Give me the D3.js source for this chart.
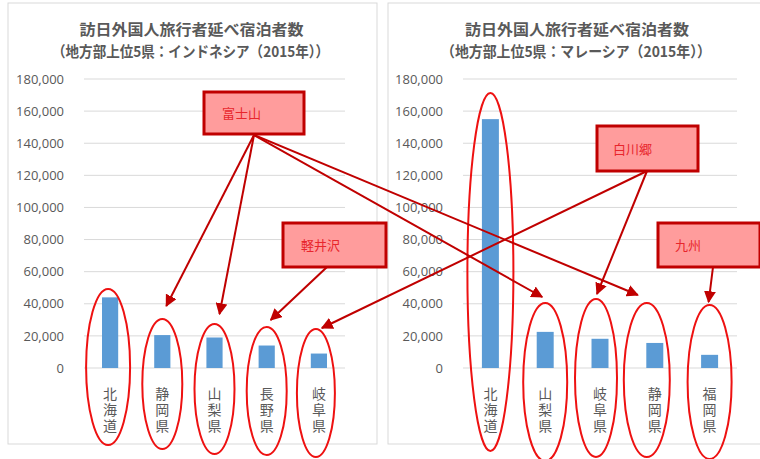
<!DOCTYPE html>
<html><head><meta charset="utf-8">
<script src="https://cdn.jsdelivr.net/npm/d3@7"></script>
<style>
html,body{margin:0;padding:0;background:#fff;}
svg{display:block;font-family:"Noto Sans CJK JP","Open Sans",sans-serif;}
.vt{writing-mode:vertical-rl;text-orientation:upright;}
</style></head><body>
<svg id="c" width="760" height="459"></svg>
<script>
const titleLine1 = "訪日外国人旅行者延べ宿泊者数";
const leftTitle2 = "（地方部上位5県：インドネシア（2015年））";
const rightTitle2 = "（地方部上位5県：マレーシア（2015年））";
const leftCategories = ["北海道","静岡県","山梨県","長野県","岐阜県"];
const leftValues = [44000, 20500, 19000, 14000, 9000];
const rightCategories = ["北海道","山梨県","岐阜県","静岡県","福岡県"];
const rightValues = [155000, 22500, 18200, 15600, 8200];
const yTicks = [0, 20000, 40000, 60000, 80000, 100000, 120000, 140000, 160000, 180000];
const calloutLabels = ["富士山","軽井沢","白川郷","九州"];

const svg = d3.select("#c");
const fmt = d3.format(",");
const y = d3.scaleLinear().domain([0,180000]).range([368,79]);

function panel(px, pw, x0, x1, title2, cats, vals, t2len){
  const g = svg.append("g");
  g.append("rect").attr("x",px).attr("y",3).attr("width",pw).attr("height",441)
   .attr("fill","#fff").attr("stroke","#d9d9d9").attr("stroke-width",1);
  const cx = (x0+x1)/2 - 23;
  g.append("text").attr("x",cx).attr("y",35).attr("text-anchor","middle")
   .attr("font-size",15).attr("font-weight","bold").attr("fill","#595959")
   .attr("textLength",224).attr("lengthAdjust","spacingAndGlyphs").text(titleLine1);
  g.append("text").attr("x",cx-1).attr("y",57).attr("text-anchor","middle")
   .attr("font-size",15).attr("font-weight","bold").attr("fill","#595959")
   .attr("textLength",t2len).attr("lengthAdjust","spacingAndGlyphs").text(title2);
  const x = d3.scaleBand().domain(cats).range([x0,x1]).paddingInner(0.69).paddingOuter(0.345);
  // grid
  g.append("g").selectAll("line").data(yTicks).join("line")
   .attr("x1",x0).attr("x2",x1).attr("y1",d=>y(d)).attr("y2",d=>y(d))
   .attr("stroke","#d9d9d9").attr("stroke-width",1);
  // y axis labels
  const ax = g.append("g").attr("transform",`translate(${x0-17},0)`)
    .call(d3.axisLeft(y).tickValues(yTicks).tickFormat(fmt).tickSize(0));
  ax.select(".domain").remove();
  ax.selectAll("text").attr("font-size",13).attr("fill","#595959")
    .attr("font-family","'Open Sans','Liberation Sans',sans-serif");
  // bars
  g.append("g").selectAll("rect").data(cats).join("rect")
   .attr("x",d=>x(d)).attr("width",x.bandwidth())
   .attr("y",(d,i)=>y(vals[i])).attr("height",(d,i)=>y(0)-y(vals[i]))
   .attr("fill","#5b9bd5");
  // category labels (vertical)
  g.append("g").selectAll("text").data(cats).join("text")
   .attr("class","vt")
   .attr("x",d=>x(d)+x.bandwidth()/2).attr("y",387)
   .attr("font-size",14).attr("letter-spacing",2).attr("fill","#595959").text(d=>d);
  return {x, g};
}

const L = panel(8, 369, 84, 345, leftTitle2, leftCategories, leftValues, 277);
const R = panel(388, 380, 463, 737, rightTitle2, rightCategories, rightValues, 270);

const mx = (P,c)=>P.x(c)+P.x.bandwidth()/2;

// ellipses
const ell = svg.append("g").attr("fill","none").attr("stroke","#ee1111").attr("stroke-width",2);
const leftEll = [[0,-2,367,22,78],[1,0,384,20,65],[2,0,389,20,65],[3,0,391,20,64],[4,-3,393,19,64]];
leftEll.forEach(([i,dx,cy,rx,ry])=>{
  ell.append("ellipse").attr("cx",mx(L,leftCategories[i])+dx).attr("cy",cy).attr("rx",rx).attr("ry",ry);
});
const rightEll = [[0,0,272,23,179],[1,0,382,22,79],[2,-4,378,21,79],[3,-8,380,23,77],[4,0,382,22,77]];
rightEll.forEach(([i,dx,cy,rx,ry])=>{
  ell.append("ellipse").attr("cx",mx(R,rightCategories[i])+dx).attr("cy",cy).attr("rx",rx).attr("ry",ry);
});

// callout boxes
const boxes = [[204,92,100,42,222,0],[283,223,103,44,301,1],[597,126,101,45,613,2],[658,223,102,44,675,3]];
const bx = svg.append("g");
boxes.forEach(([x0,y0,w,h,tx,k])=>{
  bx.append("rect").attr("x",x0).attr("y",y0).attr("width",w).attr("height",h)
    .attr("fill","#ff9c9c").attr("stroke","#c00000").attr("stroke-width",3);
  bx.append("text").attr("x",tx).attr("y",y0+h/2+5).attr("font-size",13)
    .attr("fill","#e8262c").text(calloutLabels[k]);
});

// arrows
const defs = svg.append("defs");
defs.append("marker").attr("id","ah").attr("viewBox","0 0 10 10").attr("refX",9).attr("refY",5)
  .attr("markerWidth",6).attr("markerHeight",6).attr("markerUnits","strokeWidth").attr("orient","auto")
  .append("path").attr("d","M0,0L10,5L0,10z").attr("fill","#c00000");
const arrows = [
  [254,135, mx(L,"静岡県")+4, 306],
  [254,135, mx(L,"山梨県")+5, 314],
  [254,135, mx(R,"山梨県")-3, 297],
  [254,135, mx(R,"静岡県")-17, 295],
  [327,267, mx(L,"長野県")+4, 320],
  [647,171, mx(L,"岐阜県")+3, 328],
  [647,171, mx(R,"岐阜県")-3, 294],
  [713,267, mx(R,"福岡県")-1, 302]
];
svg.append("g").selectAll("line").data(arrows).join("line")
  .attr("x1",d=>d[0]).attr("y1",d=>d[1]).attr("x2",d=>d[2]).attr("y2",d=>d[3])
  .attr("stroke","#c00000").attr("stroke-width",2).attr("marker-end","url(#ah)");
</script>
</body></html>
